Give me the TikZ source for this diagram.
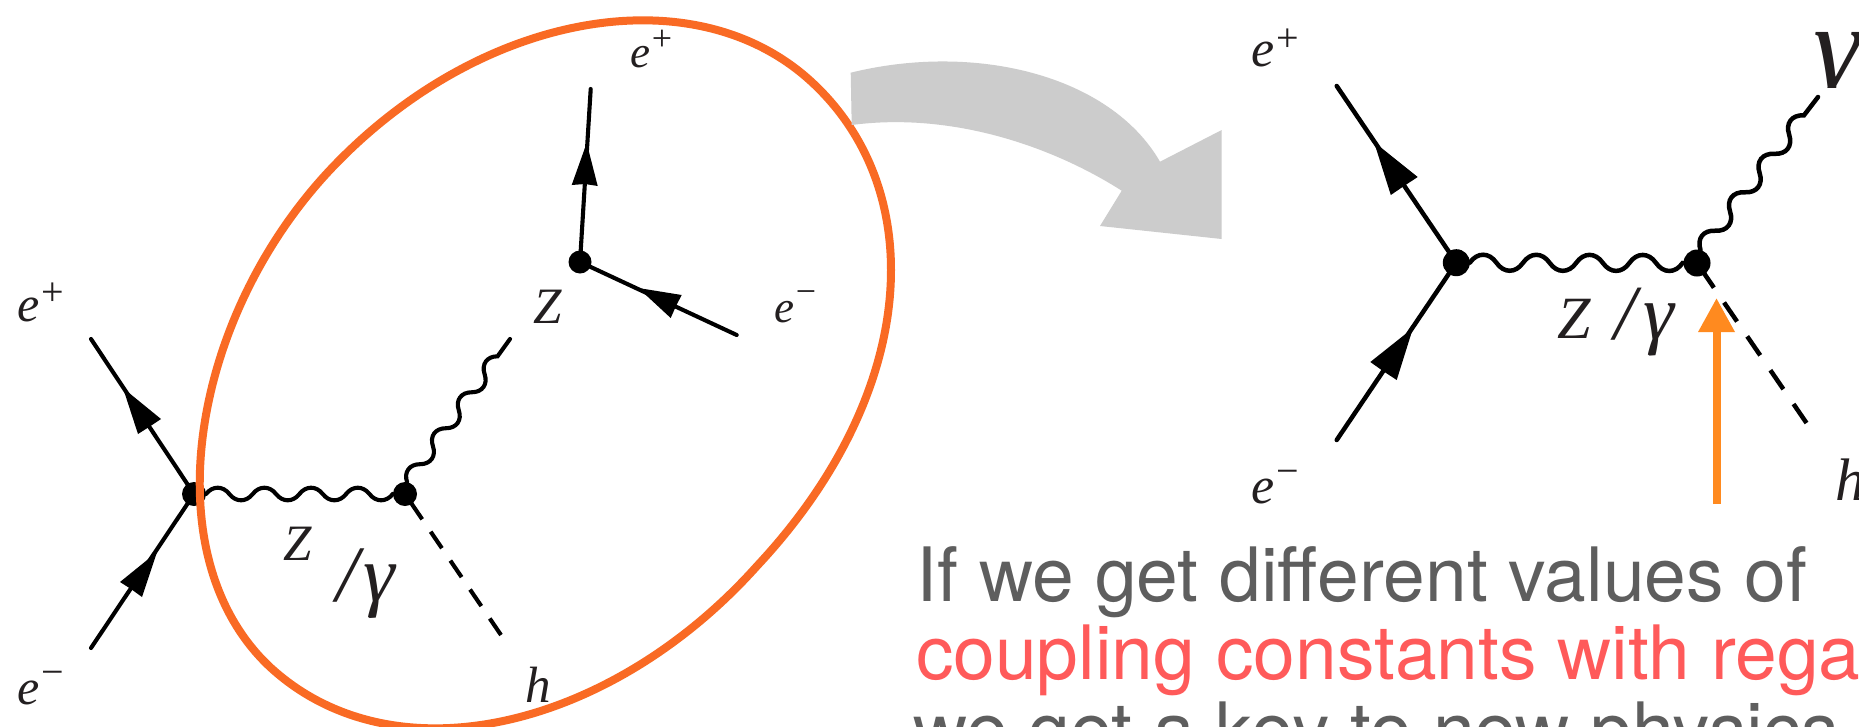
\documentclass[tikz,border=0pt]{standalone}
\usepackage{fontspec}
\setmainfont{Liberation Serif}
\newfontfamily\txtsans{TeX Gyre Heros}
\usetikzlibrary{decorations,shapes.geometric,arrows.meta}
\definecolor{labelblack}{HTML}{231F20}
\definecolor{loopor}{HTML}{F96A24}
\definecolor{arrowor}{HTML}{FF8A1F}
\definecolor{txtgray}{HTML}{5E5E5E}
\definecolor{txtred}{HTML}{FF5A5A}
\definecolor{bendgray}{HTML}{CCCCCC}
\newcommand{\lepton}[4]{{\fontsize{#1}{#1}\selectfont\itshape e}\kern2pt\raisebox{#3}{\fontsize{#2}{#2}\selectfont #4}}
\newcommand{\sized}[2]{{\fontsize{#1}{#1}\selectfont\itshape #2}}
\pgfdeclaredecoration{bosonwave}{crest}{
  \state{crest}[switch if less than=0.49\pgfdecorationsegmentlength to final,
                width=0.5\pgfdecorationsegmentlength,next state=trough]{
    \pgfpathcurveto{\pgfpoint{0.14\pgfdecorationsegmentlength}{1.333\pgfdecorationsegmentamplitude}}
                   {\pgfpoint{0.36\pgfdecorationsegmentlength}{1.333\pgfdecorationsegmentamplitude}}
                   {\pgfpoint{0.5\pgfdecorationsegmentlength}{0pt}}
  }
  \state{trough}[switch if less than=0.49\pgfdecorationsegmentlength to final,
                width=0.5\pgfdecorationsegmentlength,next state=crest]{
    \pgfpathcurveto{\pgfpoint{0.14\pgfdecorationsegmentlength}{-1.333\pgfdecorationsegmentamplitude}}
                   {\pgfpoint{0.36\pgfdecorationsegmentlength}{-1.333\pgfdecorationsegmentamplitude}}
                   {\pgfpoint{0.5\pgfdecorationsegmentlength}{0pt}}
  }
  \state{final}{\pgfpathlineto{\pgfpointdecoratedpathlast}}
}
\tikzset{
  lab/.style={inner sep=0pt,outer sep=0pt,anchor=base west,text=labelblack},
  para/.style={inner sep=0pt,outer sep=0pt,anchor=base west,font=\txtsans\fontsize{75}{75}\selectfont},
  dot/.style={circle,fill=black,inner sep=0pt,outer sep=0pt,minimum size=#1},
  ferm/.style={line width=#1,line cap=round,black},
  wave/.style n args={3}{line width=#1,black,line cap=round,decorate,decoration={bosonwave,segment length=#2,amplitude=#3}},
  tipfill/.style={fill=black,draw=none},
  vertexdash/.style n args={3}{line width=#1,black,dash pattern=on #2 off #3},
}
\begin{document}
\begin{tikzpicture}[x=1pt,y=-1pt]
\clip (0,0) rectangle (1859,726);
\fill[white] (0,0) rectangle (1859,726);
% left diagram
\node[dot=24pt] (v1) at (194,494) {};
\node[dot=24pt] (v2) at (405,494) {};
\coordinate (ep1) at (91,339);
\coordinate (em1) at (91,648);
\coordinate (wz) at (510,339);
\coordinate (h1) at (501,635);
\draw[ferm=4.1pt] (ep1) -- (v1.center);
\draw[ferm=4.1pt] (em1) -- (v1.center);
\draw[wave={4.1pt}{46.7pt}{6.3pt}] (v1.east) -- (v2.west);
\draw[wave={4.1pt}{44.3pt}{6.5pt}] (v2.80) -- (wz);
\draw[vertexdash={4.1pt}{20pt}{15pt}] (h1) -- (v2.center);
\fill[tipfill] (123,388) -- (161,419) -- (149.5,426.7) -- (138,434) -- cycle;
\fill[tipfill] (157,552) -- (120,582) -- (131,589) -- (142,597) -- cycle;
% upper vertex
\node[dot=23pt] (v5) at (580,262) {};
\coordinate (ep2) at (590.7,89);
\coordinate (em2) at (736.7,335);
\draw[ferm=4.1pt] (ep2) -- (v5.center);
\draw[ferm=4.1pt] (em2) -- (v5.center);
\fill[tipfill] (586.7,143) -- (571.7,185) -- (585,184) -- (597.7,186) -- cycle;
\fill[tipfill] (638.3,288) -- (681.7,295) -- (676,306) -- (670.7,318) -- cycle;
% right diagram
\node[dot=27pt] (v3) at (1456.3,262.7) {};
\node[dot=27pt] (v4) at (1697,263) {};
\coordinate (ep3) at (1336.7,86);
\coordinate (em3) at (1336.7,440);
\coordinate (wg) at (1818,97);
\coordinate (h3) at (1806.5,423);
\draw[ferm=4.5pt] (ep3) -- (v3.center);
\draw[ferm=4.5pt] (em3) -- (v3.center);
\draw[wave={4.5pt}{53.2pt}{8pt}] (v3.east) -- (v4.west);
\draw[wave={4.5pt}{48.5pt}{7.5pt}] (v4.75) -- (wg);
\draw[vertexdash={4.5pt}{23pt}{18pt}] (h3) -- (v4.center);
\fill[tipfill] (1374,142) -- (1417.7,177) -- (1404,186) -- (1390.8,195) -- cycle;
\fill[tipfill] (1413,328) -- (1370.3,362) -- (1383,371) -- (1396.7,380) -- cycle;
% orange arrow
\coordinate (oa1) at (1716.5,504);
\coordinate (oa2) at (1716.5,298);
\draw[arrowor,line width=8pt,-{Triangle[length=34pt,width=34.5pt]}] (oa1) -- (oa2);
% labels
\node[lab] (l1) at (17,321) {\lepton{50}{40}{15.5pt}{+}};
\node[lab] (l2) at (17,704.5) {\lepton{50}{40}{19pt}{−}};
\node[lab] (l3) at (630,67.5) {\lepton{45}{36}{17pt}{+}};
\node[lab] (l4) at (774,322.5) {\lepton{45}{36}{19pt}{−}};
\node[lab] (l5) at (1251,66) {\lepton{52}{40}{15pt}{+}};
\node[lab] (l6) at (1251,503) {\lepton{52}{40}{19pt}{−}};
\node[lab] (z1) at (283,560) {\sized{51}{Z}};
\node[lab] (z2) at (533,323) {\sized{51}{Z}};
\node[lab] (z3) at (1557,338) {\sized{60}{Z}};
\node[lab] (h1t) at (525,702) {\sized{51}{h}};
\node[lab] (h3t) at (1835,500) {\sized{60}{h}};
\node[lab] (g1) at (336,601) {\sized{80}{/\kern5pt γ}};
\node[lab] (g3) at (1614,339) {\sized{78}{/\kern8pt γ}};
\begin{scope}
  \clip (1800,0) rectangle (1859,87);
  \node[lab] (g4) at (1813,87) {\sized{120}{γ}};
\end{scope}
% loop
\draw[loopor,line width=8pt] (812.8,83)
  .. controls (930.9,193.5) and (917.5,394.5) .. (757,566)
  .. controls (612,728) and (395,782) .. (270,667)
  .. controls (152,556.5) and (190,320) .. (329,171)
  .. controls (477.9,12) and (694.7,-27.5) .. cycle;
% bent arrow
\fill[bendgray] (850.7,72.7) .. controls (975,42) and (1110,75) .. (1160,161.7)
  -- (1221.7,130) -- (1221.7,239) -- (1100,226) -- (1121.7,190.7)
  .. controls (1050,145) and (950,112) .. (851.7,125) -- cycle;
% text
\node[para,text=txtgray] (t1) at (916.5,601.7) {If we get different values of};
\node[para,text=txtred] (t2) at (916,679) {coupling constants with rega};
\node[para,text=txtgray] (t3) at (913,756) {we get a key to new physics};
\end{tikzpicture}
\end{document}
